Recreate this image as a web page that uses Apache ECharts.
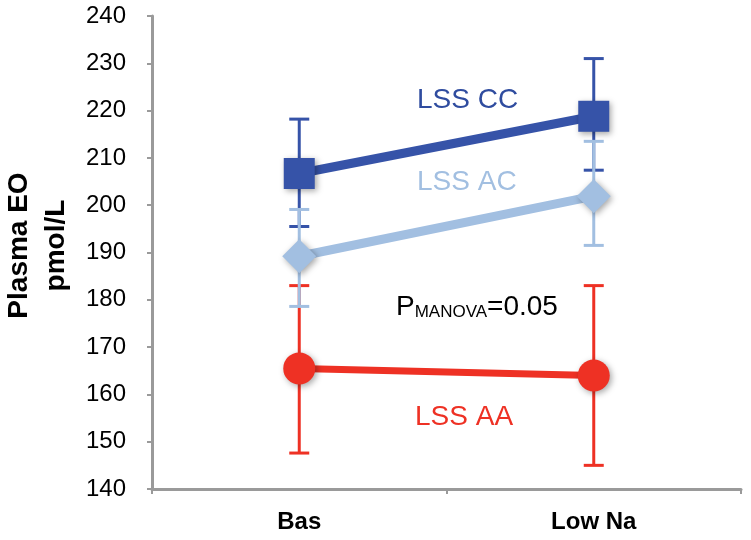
<!DOCTYPE html>
<html>
<head>
<meta charset="utf-8">
<script src="https://cdn.jsdelivr.net/npm/echarts@6/dist/echarts.min.js"></script>
<style>html,body{margin:0;padding:0;background:#fff}#c{width:751px;height:540px}</style>
</head>
<body>
<div id="c"></div>
<script>
const categories = ['Bas', 'Low Na'];
const yTicks = [140, 150, 160, 170, 180, 190, 200, 210, 220, 230, 240];

const ccMean = [206.7, 218.8];
const ccLow  = [195.5, 207.4];
const ccHigh = [218.2, 231.0];

const acMean = [189.2, 201.9];
const acLow  = [178.6, 191.5];
const acHigh = [199.1, 213.5];

const aaMean = [165.5, 164.0];
const aaLow  = [147.6, 145.0];
const aaHigh = [183.0, 183.0];

const DARK = '#3653a8', LIGHT = '#a2bfe1', RED = '#ee3124';
const FONT = '"Liberation Sans", Arial, Helvetica, sans-serif';

function errData(lo, hi) { return categories.map((c, i) => [i, lo[i], hi[i]]); }
function errSeries(lo, hi, color, z) {
  return {
    type: 'custom', z: z, silent: true,
    data: errData(lo, hi),
    renderItem: function (params, api) {
      const x = api.value(0);
      const p1 = api.coord([x, api.value(1)]);
      const p2 = api.coord([x, api.value(2)]);
      const hw = 10;
      const st = { stroke: color, lineWidth: 3, fill: null };
      return { type: 'group', children: [
        { type: 'line', shape: { x1: p1[0], y1: p1[1], x2: p2[0], y2: p2[1] }, style: st },
        { type: 'line', shape: { x1: p1[0]-hw, y1: p1[1], x2: p1[0]+hw, y2: p1[1] }, style: st },
        { type: 'line', shape: { x1: p2[0]-hw, y1: p2[1], x2: p2[0]+hw, y2: p2[1] }, style: st }
      ]};
    }
  };
}
const shadow = { shadowBlur: 6, shadowColor: 'rgba(0,0,0,0.35)', shadowOffsetX: 2, shadowOffsetY: 2 };
function lineSeries(name, vals, color, symbol, size, width, z) {
  return {
    name: name, type: 'line', z: z, data: vals, symbol: symbol, symbolSize: size,
    showAllSymbol: true, silent: true,
    lineStyle: { color: color, width: width },
    itemStyle: Object.assign({ color: color, opacity: 1 }, shadow)
  };
}

const chart = echarts.init(document.getElementById('c'), null, { renderer: 'canvas' });
chart.setOption({
  animation: false,
  backgroundColor: '#fff',
  grid: { left: 152, right: 10, top: 16, bottom: 51, containLabel: false, outerBoundsMode: 'none' },
  xAxis: {
    type: 'category', data: categories, boundaryGap: true,
    axisLine: { lineStyle: { color: '#9a9a9a', width: 3 } },
    axisTick: { show: true, length: 5, interval: 0, lineStyle: { color: '#9a9a9a', width: 2 } },
    axisLabel: { color: '#000', fontFamily: FONT, fontWeight: 'bold', fontSize: 24, margin: 21, interval: 0 }
  },
  yAxis: {
    type: 'value', min: yTicks[0], max: yTicks[yTicks.length - 1], interval: 10,
    name: 'Plasma EO\npmol/L', nameLocation: 'middle', nameRotate: 90, nameGap: 76,
    nameTextStyle: { color: '#000', fontFamily: FONT, fontWeight: 'bold', fontSize: 28, lineHeight: 37, padding: [0, 0, 0, 14] },
    axisLine: { show: true, lineStyle: { color: '#9a9a9a', width: 3 } },
    axisTick: { show: true, length: 5, lineStyle: { color: '#9a9a9a', width: 2 } },
    splitLine: { show: false },
    axisLabel: { color: '#000', fontFamily: FONT, fontSize: 24, margin: 26 }
  },
  graphic: [
    { type: 'text', left: 417, top: 86, style: { text: 'LSS CC', fill: '#2f4c9f', font: '28px ' + FONT } },
    { type: 'text', left: 417, top: 168, style: { text: 'LSS AC', fill: LIGHT, font: '28px ' + FONT } },
    { type: 'text', left: 415, top: 403, style: { text: 'LSS AA', fill: RED, font: '28px ' + FONT } },
    { type: 'text', left: 396, top: 293, style: {
        rich: {
          a: { fontSize: 28, fontFamily: FONT, fill: '#000', verticalAlign: 'bottom' },
          s: { fontSize: 17, fontFamily: FONT, fill: '#000', padding: [12, 0, 0, 0], verticalAlign: 'bottom' }
        },
        text: '{a|P}{s|MANOVA}{a|=0.05}'
    } }
  ],
  series: [
    errSeries(ccLow, ccHigh, DARK, 1),
    errSeries(aaLow, aaHigh, RED, 2),
    errSeries(acLow, acHigh, LIGHT, 3),
    lineSeries('LSS AA', aaMean, RED, 'circle', 32, 7, 10),
    lineSeries('LSS AC', acMean, LIGHT, 'diamond', 34, 9, 11),
    lineSeries('LSS CC', ccMean, DARK, 'rect', 31, 9, 12)
  ]
});
</script>
</body>
</html>
